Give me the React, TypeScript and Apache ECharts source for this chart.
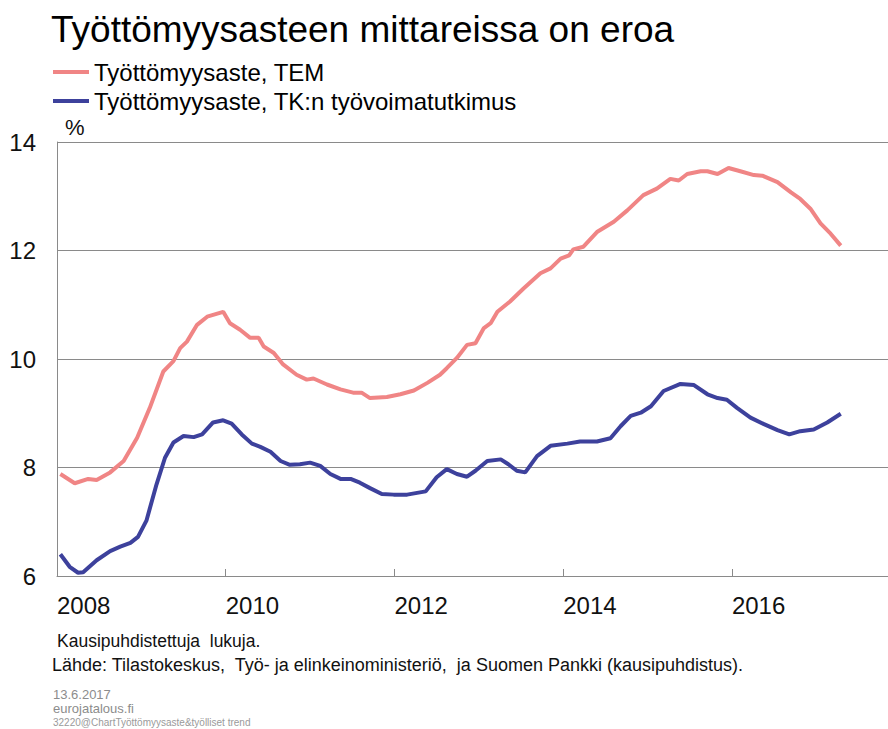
import React, { useEffect, useRef } from "react";
import * as echarts from "echarts";

// Työttömyysaste, TEM (decimal year, %)
const temYears = [
  2008.04, 2008.21, 2008.37, 2008.47, 2008.63, 2008.79, 2008.95, 2009.10, 2009.26, 2009.38,
  2009.46, 2009.54, 2009.66, 2009.78, 2009.97, 2010.05, 2010.17, 2010.29, 2010.39, 2010.45,
  2010.57, 2010.68, 2010.84, 2010.96, 2011.04, 2011.20, 2011.36, 2011.51, 2011.61, 2011.71,
  2011.91, 2012.07, 2012.23, 2012.39, 2012.54, 2012.62, 2012.74, 2012.86, 2012.96, 2013.06,
  2013.14, 2013.22, 2013.37, 2013.53, 2013.73, 2013.85, 2013.97, 2014.07, 2014.12, 2014.24,
  2014.40, 2014.60, 2014.76, 2014.95, 2015.11, 2015.27, 2015.37, 2015.47, 2015.63, 2015.71,
  2015.83, 2015.96, 2016.10, 2016.26, 2016.36, 2016.54, 2016.70, 2016.81, 2016.93, 2017.05,
  2017.17, 2017.29,
];
const temValues = [
  7.88, 7.71, 7.79, 7.77, 7.91, 8.12, 8.55, 9.10, 9.77, 9.96,
  10.20, 10.32, 10.63, 10.78, 10.87, 10.66, 10.54, 10.39, 10.39, 10.23,
  10.11, 9.90, 9.71, 9.62, 9.64, 9.53, 9.44, 9.38, 9.38, 9.28,
  9.30, 9.35, 9.42, 9.56, 9.71, 9.83, 10.02, 10.26, 10.29, 10.57,
  10.66, 10.87, 11.06, 11.30, 11.58, 11.67, 11.85, 11.91, 12.02, 12.07,
  12.34, 12.53, 12.74, 13.02, 13.14, 13.32, 13.29, 13.41, 13.46, 13.46,
  13.41, 13.52, 13.46, 13.39, 13.38, 13.26, 13.07, 12.95, 12.77, 12.50,
  12.31, 12.09,
];

// Työttömyysaste, TK:n työvoimatutkimus (decimal year, %)
const tkYears = [
  2008.04, 2008.15, 2008.25, 2008.31, 2008.47, 2008.63, 2008.75, 2008.87, 2008.96, 2009.06,
  2009.18, 2009.28, 2009.38, 2009.50, 2009.62, 2009.72, 2009.85, 2009.97, 2010.07, 2010.19,
  2010.31, 2010.41, 2010.53, 2010.65, 2010.76, 2010.88, 2011.00, 2011.12, 2011.24, 2011.36,
  2011.48, 2011.59, 2011.71, 2011.85, 2011.99, 2012.15, 2012.37, 2012.50, 2012.62, 2012.74,
  2012.86, 2012.96, 2013.10, 2013.26, 2013.35, 2013.45, 2013.55, 2013.69, 2013.85, 2014.05,
  2014.20, 2014.40, 2014.56, 2014.68, 2014.80, 2014.92, 2015.04, 2015.19, 2015.39, 2015.55,
  2015.71, 2015.83, 2015.94, 2016.06, 2016.22, 2016.38, 2016.54, 2016.68, 2016.81, 2016.97,
  2017.13, 2017.29,
];
const tkValues = [
  6.40, 6.17, 6.06, 6.07, 6.29, 6.46, 6.54, 6.61, 6.72, 7.02,
  7.69, 8.18, 8.46, 8.58, 8.56, 8.61, 8.83, 8.87, 8.81, 8.61,
  8.44, 8.38, 8.29, 8.12, 8.05, 8.06, 8.09, 8.03, 7.88, 7.79,
  7.79, 7.72, 7.62, 7.51, 7.50, 7.50, 7.56, 7.82, 7.97, 7.88,
  7.83, 7.94, 8.12, 8.15, 8.06, 7.94, 7.91, 8.21, 8.40, 8.44,
  8.48, 8.48, 8.54, 8.76, 8.95, 9.01, 9.13, 9.41, 9.54, 9.52,
  9.35, 9.28, 9.25, 9.10, 8.92, 8.80, 8.69, 8.61, 8.67, 8.70,
  8.83, 8.99,
];

const seriesNames = ["Työttömyysaste, TEM", "Työttömyysaste, TK:n työvoimatutkimus"];
const yTicks = [6, 8, 10, 12, 14];
const xTickYears = [2008, 2010, 2012, 2014, 2016];

const FONT = "'Liberation Sans', Arial, sans-serif";
const PINK = "#F08585";
const BLUE = "#3D419C";
const GRID = "#8a8a8a";

export default function App() {
  const ref = useRef<HTMLDivElement>(null);
  useEffect(() => {
    if (!ref.current) return;
    const chart = echarts.init(ref.current, undefined, { renderer: "svg" });
    const zip = (xs: number[], ys: number[]) => xs.map((x, i) => [x, ys[i]]);
    chart.setOption({
      animation: false,
      backgroundColor: "#ffffff",
      title: {
        text: "Työttömyysasteen mittareissa on eroa",
        left: 51,
        top: 9,
        padding: 0,
        textStyle: { fontFamily: FONT, fontSize: 37, fontWeight: "normal", color: "#000", lineHeight: 40 },
      },
      legend: {
        orient: "vertical",
        left: 53,
        top: 60,
        padding: 0,
        itemGap: 5,
        itemWidth: 36,
        itemHeight: 4,
        icon: "rect",
        data: seriesNames,
        textStyle: { fontFamily: FONT, fontSize: 24, color: "#000", lineHeight: 24 },
      },
      grid: { left: 57, top: 142, width: 831, height: 434, containLabel: false },
      xAxis: {
        type: "value",
        min: 2008,
        max: 2017.85,
        interval: 2,
        axisLine: { show: true, lineStyle: { color: GRID, width: 1 } },
        axisTick: { show: true, inside: true, length: 7, lineStyle: { color: GRID } },
        splitLine: { show: false },
        axisLabel: {
          show: true,
          showMaxLabel: false,
          align: "left",
          margin: 17,
          fontFamily: FONT,
          fontSize: 24,
          color: "#111",
          formatter: (v: number) => (xTickYears.includes(Math.round(v)) && Math.abs(v - Math.round(v)) < 1e-6 ? String(Math.round(v)) : ""),
        },
      },
      yAxis: {
        type: "value",
        min: yTicks[0],
        max: yTicks[yTicks.length - 1],
        interval: 2,
        axisLine: { show: true, lineStyle: { color: GRID, width: 1 } },
        axisTick: { show: false },
        splitLine: { show: true, lineStyle: { color: GRID, width: 1 } },
        axisLabel: { margin: 21, fontFamily: FONT, fontSize: 24, color: "#111" },
      },
      series: [
        {
          name: seriesNames[0],
          type: "line",
          data: zip(temYears, temValues),
          symbol: "none",
          lineStyle: { color: PINK, width: 4 },
          itemStyle: { color: PINK },
        },
        {
          name: seriesNames[1],
          type: "line",
          data: zip(tkYears, tkValues),
          symbol: "none",
          lineStyle: { color: BLUE, width: 4 },
          itemStyle: { color: BLUE },
        },
      ],
      graphic: [
        { type: "text", left: 65, top: 116, style: { text: "%", fontFamily: FONT, fontSize: 22, fill: "#111" } },
        { type: "text", left: 57, top: 632, style: { text: "Kausipuhdistettuja  lukuja.", fontFamily: FONT, fontSize: 17.5, fill: "#111" } },
        {
          type: "text",
          left: 52,
          top: 656,
          style: {
            text: "Lähde: Tilastokeskus,  Työ- ja elinkeinoministeriö,  ja Suomen Pankki (kausipuhdistus).",
            fontFamily: FONT,
            fontSize: 18,
            fill: "#111",
          },
        },
        { type: "text", left: 53, top: 688, style: { text: "13.6.2017", fontFamily: FONT, fontSize: 13, lineHeight: 13, fill: "#8c8c8c" } },
        { type: "text", left: 53, top: 702, style: { text: "eurojatalous.fi", fontFamily: FONT, fontSize: 13, lineHeight: 13, fill: "#8c8c8c" } },
        {
          type: "text",
          left: 53,
          top: 717,
          style: { text: "32220@ChartTyöttömyysaste&työlliset trend", fontFamily: FONT, fontSize: 10, lineHeight: 10, fill: "#9a9a9a" },
        },
      ],
    });
    return () => chart.dispose();
  }, []);
  return (
    <div
      ref={ref}
      style={{ position: "absolute", left: 0, top: 0, width: 888, height: 729, background: "#fff" }}
    />
  );
}
